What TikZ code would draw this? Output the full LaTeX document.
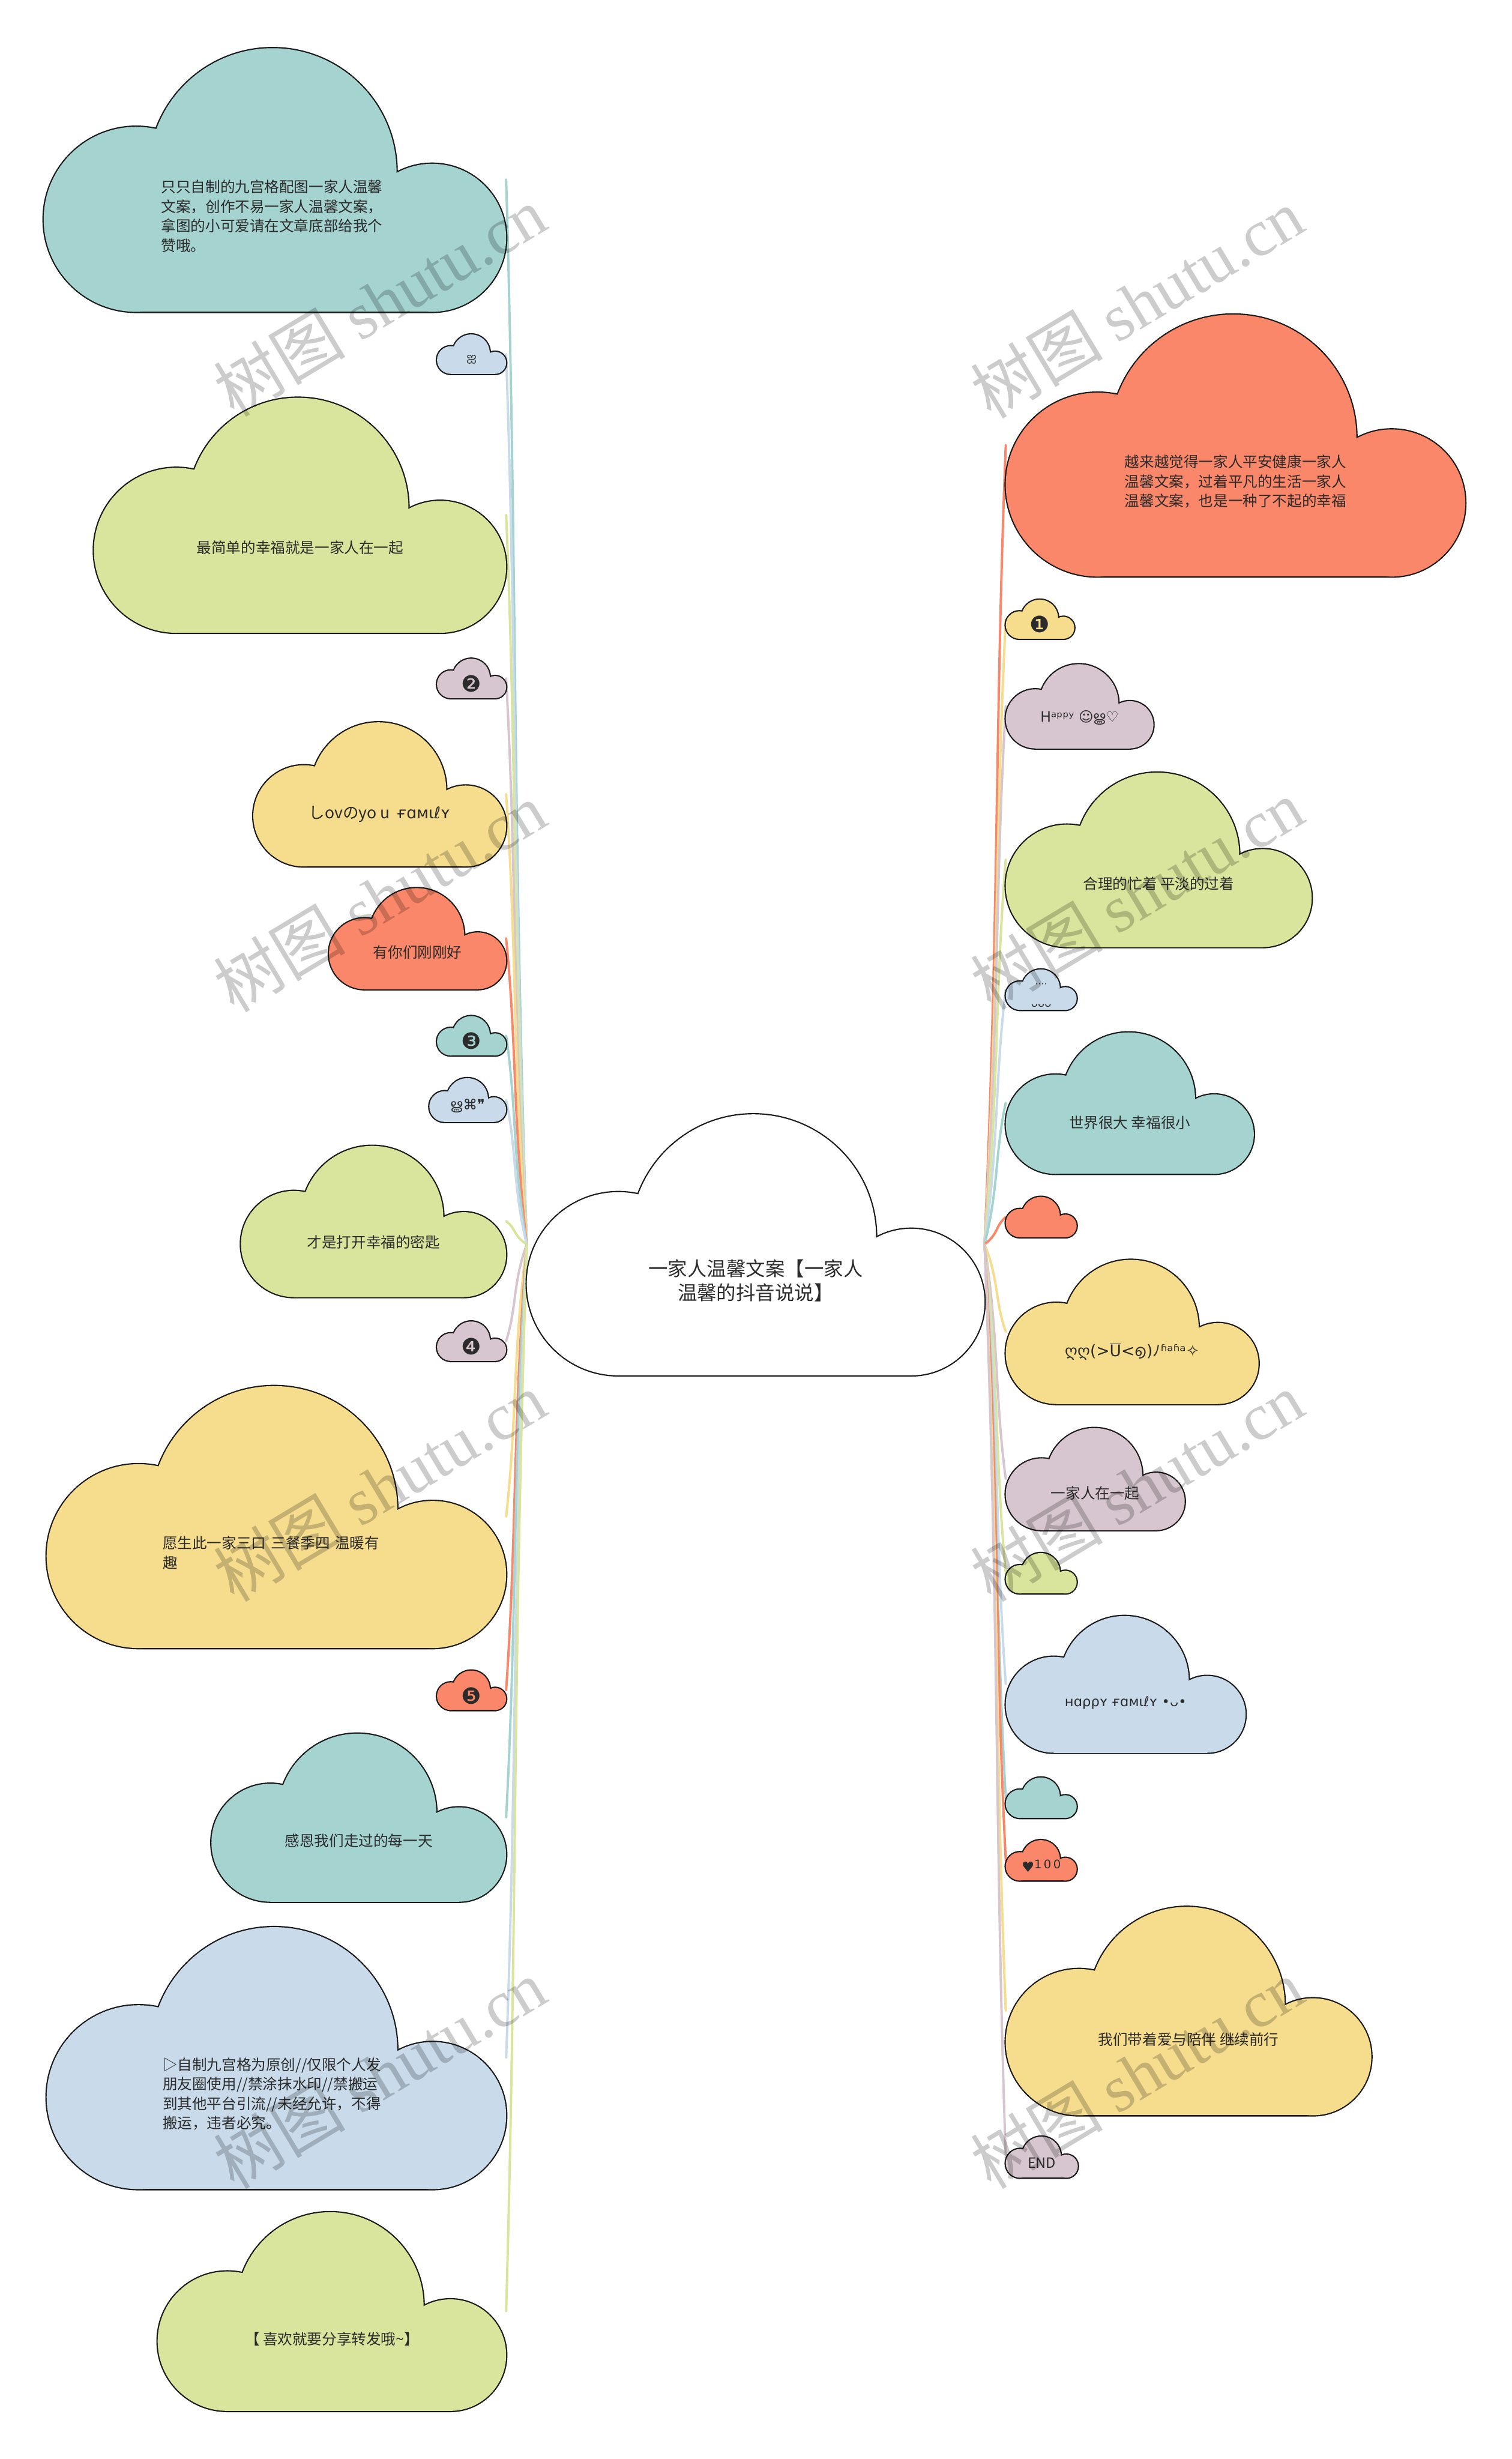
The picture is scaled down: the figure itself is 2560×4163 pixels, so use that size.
\documentclass[tikz,border=0pt]{standalone}
\usepackage{fontspec}
\newfontfamily\cjk{Noto Sans CJK SC}
\newfontfamily\dv{DejaVu Sans}
\newfontfamily\nsans{Noto Sans}
\newfontfamily\mal[Script=Malayalam]{Hind Kochi}
\newfontfamily\tam[Script=Tamil]{Hind Madurai}
\newfontfamily\wmserif{Liberation Serif}
\usetikzlibrary{calc}
\pgfdeclarelayer{bgl}
\pgfdeclarelayer{connl}
\pgfsetlayers{bgl,connl,main}

\definecolor{cteal}{HTML}{A4D3D0}
\definecolor{cblue}{HTML}{C9DAEA}
\definecolor{cgreen}{HTML}{D9E59C}
\definecolor{cmauve}{HTML}{D7C6CF}
\definecolor{cyellow}{HTML}{F6DC8D}
\definecolor{corange}{HTML}{FB876A}
\definecolor{textc}{HTML}{2B2B2B}
\definecolor{outl}{HTML}{1A1A1A}

\tikzset{
  txt/.style={font=\cjk\fontsize{25}{33}\selectfont, text=textc, align=center, inner sep=0pt},
  numtxt/.style={font=\dv\fontsize{38}{38}\selectfont},
  conn/.style={line width=4pt, line cap=round},
  wm/.style={font=\cjk\fontsize{112}{112}\selectfont, text=black, text opacity=0.2, inner sep=0pt, rotate=31}
}

\newcommand\mouthU{\ensuremath{\overline{\mbox{\dv U}}}}

% name, X, Y, W, colour, text, extra node options
\newcommand\cloud[7]{%
  \begin{scope}[shift={(#2,#3)},scale=#4]
    \path[draw=outl,line width=4.4pt] (0.495,0.27) circle (0.268) (0.2,0.372) circle (0.2)
      (0.84,0.412) circle (0.16) (0.2,0.372) rectangle (0.84,0.572);
    \fill[#5] (0.495,0.27) circle (0.268);
    \fill[#5] (0.2,0.372) circle (0.2);
    \fill[#5] (0.84,0.412) circle (0.16);
    \fill[#5] (0.2,0.372) rectangle (0.84,0.572);
    \coordinate (#1e) at (1,0.286);
    \coordinate (#1w) at (0,0.286);
    \node[txt,#7] (#1) at (0.5,0.365) {#6};
  \end{scope}}

\newcommand\lconn[2]{\draw[conn,#1] (cw) .. controls ($(cw)!0.4!(#2e)+(-10,0)$) and ($(#2e)!0.35!(cw)+(6,0)$) .. (#2e);}
\newcommand\rconn[2]{\draw[conn,#1] (ce) .. controls ($(ce)!0.4!(#2w)+(10,0)$) and ($(#2w)!0.35!(ce)+(-6,0)$) .. (#2w);}

\begin{document}
\begin{tikzpicture}[x=1pt,y=-1pt]
\begin{pgfonlayer}{bgl}
  \fill[white] (0,0) rectangle (2560,4163);
\end{pgfonlayer}
\useasboundingbox (0,0) rectangle (2560,4163);

% central
\cloud{c}{892}{1885}{775}{white}{一家人温馨文案【一家人\\温馨的抖音说说】}{font=\cjk\fontsize{33}{41}\selectfont}

% left side
\cloud{La}{74}{80}{783}{cteal}{只只自制的九宫格配图一家人温馨\\文案，创作不易一家人温馨文案，\\拿图的小可爱请在文章底部给我个\\赞哦。}{align=left,text width=385}
\cloud{Lb}{740}{566}{117}{cblue}{\tam\fontsize{20}{20}\selectfont ஐ}{}
\cloud{Lc}{159}{672}{698}{cgreen}{最简单的幸福就是一家人在一起}{}
\cloud{Ld}{740}{1115}{117}{cmauve}{❷}{numtxt}
\cloud{Le}{429}{1222}{428}{cyellow}{\fontsize{27}{30}\selectfont しovのyo u\ \ {\dv ғɑмιℓʏ}}{}
\cloud{Lf}{557}{1503}{300}{corange}{有你们刚刚好}{}
\cloud{Lg}{740}{1720}{117}{cteal}{❸}{numtxt}
\cloud{Lh}{727}{1825}{130}{cblue}{{\mal\fontsize{24}{24}\selectfont ൠ}{\dv\fontsize{24}{24}\selectfont ⌘❞}}{}
\cloud{Li}{408}{1939}{449}{cgreen}{才是打开幸福的密匙}{}
\cloud{Lj}{740}{2237}{117}{cmauve}{❹}{numtxt}
\cloud{Lk}{79}{2345}{778}{cyellow}{愿生此一家三口 三餐季四 温暖有\\趣}{align=left,text width=385}
\cloud{Ll}{740}{2828}{117}{corange}{❺}{numtxt}
\cloud{Lm}{358}{2934}{499}{cteal}{感恩我们走过的每一天}{}
\cloud{Ln}{79}{3261}{778}{cblue}{▷自制九宫格为原创//仅限个人发\\朋友圈使用//禁涂抹水印//禁搬运\\到其他平台引流//未经允许，不得\\搬运，违者必究。}{align=left,text width=385}
\cloud{Lo}{267}{3744}{590}{cgreen}{【 喜欢就要分享转发哦\textasciitilde】}{}

% right side
\cloud{Ra}{1703}{531}{778}{corange}{越来越觉得一家人平安健康一家人\\温馨文案，过着平凡的生活一家人\\温馨文案，也是一种了不起的幸福}{}
\cloud{Rb}{1703}{1015}{116}{cyellow}{❶}{numtxt}
\cloud{Rc}{1703}{1124}{250}{cmauve}{{\dv\fontsize{24}{24}\selectfont Hᵃᵖᵖʸ ☺}{\mal\fontsize{24}{24}\selectfont ൠ}{\dv\fontsize{24}{24}\selectfont ♡}}{}
\cloud{Rd}{1703}{1307}{518}{cgreen}{合理的忙着 平淡的过着}{}
\cloud{Re}{1703}{1641}{120}{cblue}{{\dv\fontsize{16}{8}\selectfont ····}\\{\nsans\fontsize{18}{12}\selectfont ᴗᴗᴗ}}{}
\cloud{Rf}{1703}{1747}{420}{cteal}{世界很大 幸福很小}{}
\cloud{Rg}{1703}{2026}{120}{corange}{}{}
\cloud{Rh}{1703}{2132}{428}{cyellow}{{\dv\fontsize{27}{27}\selectfont ღღ(>\mouthU<}{\mal\fontsize{27}{27}\selectfont ൭}{\dv\fontsize{27}{27}\selectfont )}{\fontsize{27}{27}\selectfont ﾉ}{\dv\fontsize{27}{27}\selectfont ʱᵃʱᵃ✧}}{}
\cloud{Ri}{1703}{2417}{303}{cmauve}{一家人在一起}{}
\cloud{Rj}{1703}{2629}{120}{cgreen}{}{}
\cloud{Rk}{1703}{2735}{406}{cblue}{{\dv\fontsize{23}{23}\selectfont ʜɑρρʏ ғɑмιℓʏ •}{\nsans\fontsize{23}{23}\selectfont ᴗ}{\dv\fontsize{23}{23}\selectfont •}}{}
\cloud{Rl}{1703}{3009}{120}{cteal}{}{}
\cloud{Rm}{1703}{3115}{120}{corange}{\dv\fontsize{24}{24}\selectfont ♥\raisebox{6pt}{\fontsize{20}{20}\selectfont 1\,0\,0}}{}
\cloud{Rn}{1703}{3227}{619}{cyellow}{我们带着爱与陪伴 继续前行}{}
\cloud{Ro}{1703}{3617}{122}{cmauve}{\fontsize{24}{24}\selectfont END}{}

% connectors
\begin{pgfonlayer}{connl}
\lconn{cteal}{La}
\lconn{cblue}{Lb}
\lconn{cgreen}{Lc}
\lconn{cmauve}{Ld}
\lconn{cyellow}{Le}
\lconn{corange}{Lf}
\lconn{cteal}{Lg}
\lconn{cblue}{Lh}
\lconn{cgreen}{Li}
\lconn{cmauve}{Lj}
\lconn{cyellow}{Lk}
\lconn{corange}{Ll}
\lconn{cteal}{Lm}
\lconn{cblue}{Ln}
\lconn{cgreen}{Lo}
\rconn{corange}{Ra}
\rconn{cyellow}{Rb}
\rconn{cmauve}{Rc}
\rconn{cgreen}{Rd}
\rconn{cblue}{Re}
\rconn{cteal}{Rf}
\rconn{corange}{Rg}
\rconn{cyellow}{Rh}
\rconn{cmauve}{Ri}
\rconn{cgreen}{Rj}
\rconn{cblue}{Rk}
\rconn{cteal}{Rl}
\rconn{corange}{Rm}
\rconn{cyellow}{Rn}
\rconn{cmauve}{Ro}
\end{pgfonlayer}

% watermarks
\node[wm] (wm1) at (643,510) {树图 {\wmserif shutu.cn}};
\node[wm] (wm2) at (1925,513) {树图 {\wmserif shutu.cn}};
\node[wm] (wm3) at (643,1519) {树图 {\wmserif shutu.cn}};
\node[wm] (wm4) at (1925,1514) {树图 {\wmserif shutu.cn}};
\node[wm] (wm5) at (643,2517) {树图 {\wmserif shutu.cn}};
\node[wm] (wm6) at (1925,2517) {树图 {\wmserif shutu.cn}};
\node[wm] (wm7) at (643,3511) {树图 {\wmserif shutu.cn}};
\node[wm] (wm8) at (1925,3511) {树图 {\wmserif shutu.cn}};
\end{tikzpicture}
\end{document}
